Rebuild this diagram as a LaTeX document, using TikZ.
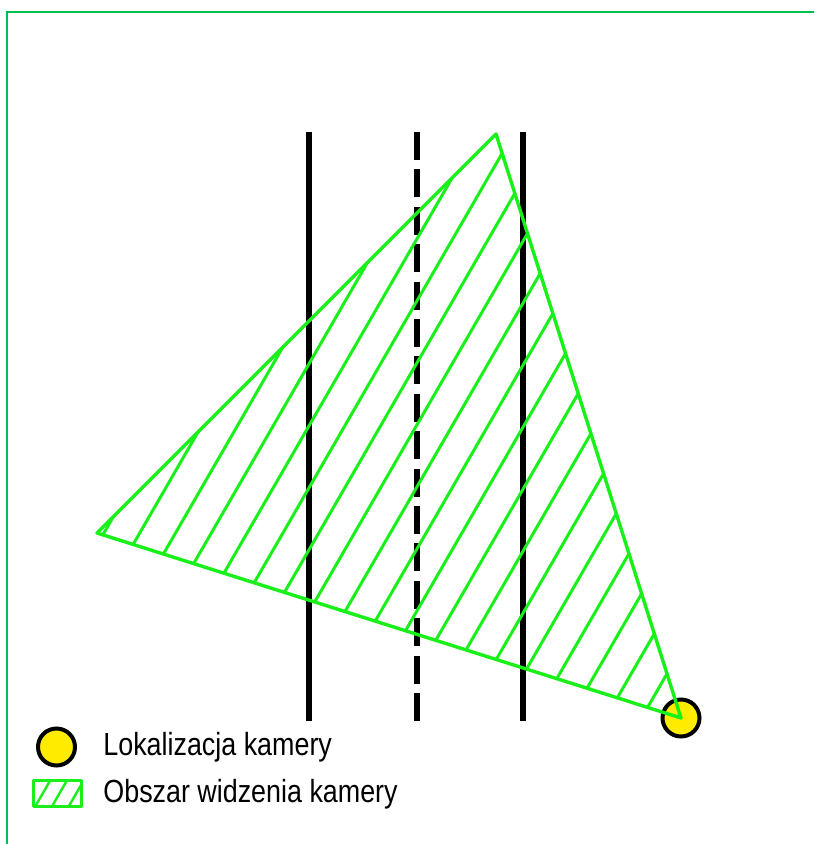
\documentclass[tikz,border=0pt]{standalone}
\usepackage{fontspec}
\setmainfont{Liberation Sans}
\usepackage{graphicx}
\usepackage{tikz}
\usetikzlibrary{calc}
\definecolor{ViewGreen}{RGB}{25,240,25}
\definecolor{FrameGreen}{RGB}{0,190,80}
\definecolor{CamYellow}{RGB}{255,235,0}
\tikzset{
    % Area styles
    viewedge/.style={
        draw=ViewGreen,
        line width=1.7pt,
        line join=round
    },
    hatchline/.style={
        draw=ViewGreen,
        line width=1.5pt
    },
    % Line styles
    boundline/.style={
        draw=black,
        line width=2.8pt
    },
    midline/.style={
        boundline,
        dash pattern=on 14pt off 4.7pt
    },
    % Camera marker
    cammark/.style={
        draw=black,
        fill=CamYellow,
        line width=2pt
    },
    % Legend
    legendtext/.style={
        anchor=base west,
        inner sep=0pt,
        font=\fontsize{16}{19}\selectfont
    }
}
\begin{document}
\begin{tikzpicture}[x=0.5pt, y=-0.5pt]
    \useasboundingbox (0,0) rectangle (814,844);
    % Frame
    \draw[FrameGreen, line width=1pt] (7,844) -- (7,12) -- (814,12);

    % Vertical lines
    \draw[boundline] (309,132) -- (309,721);
    \draw[midline] (417,132) -- (417,721);
    \draw[boundline] (523,132) -- (523,721);

    % Camera
    \coordinate (cam) at (681,718);
    \filldraw[cammark] (cam) circle (18.5);

    % View area
    \coordinate (vleft) at (97,533);
    \coordinate (vtop) at (496,134);
    \begin{scope}
        \clip (cam) -- (vleft) -- (vtop) -- cycle;
        \foreach \k in {-1,...,18}{
            \pgfmathsetmacro{\hc}{387.5+31*\k}
            \draw[hatchline] ({\hc/0.866},0) -- ({(\hc-450)/0.866},900);
        }
    \end{scope}
    \draw[viewedge] (cam) -- (vleft) -- (vtop) -- cycle;

    % Legend
    \filldraw[cammark] (56.5,747) circle (18.5);
    \node[legendtext] (camlabel) at (103,755) {\scalebox{0.84}[1]{Lokalizacja kamery}};

    \coordinate (boxa) at (33.5,780.5);
    \coordinate (boxb) at (81.5,806.5);
    \begin{scope}
        \clip (boxa) rectangle (boxb);
        \foreach \k in {0,1,2}{
            \pgfmathsetmacro{\hc}{433.7+14.5*\k}
            \draw[hatchline, line width=1.2pt] ({(\hc-390)/0.866},780) -- ({(\hc-405)/0.866},810);
        }
    \end{scope}
    \draw[viewedge, line width=1.9pt] (boxa) rectangle (boxb);
    \node[legendtext] (arealabel) at (103,802) {\scalebox{0.84}[1]{Obszar widzenia kamery}};
\end{tikzpicture}
\end{document}
